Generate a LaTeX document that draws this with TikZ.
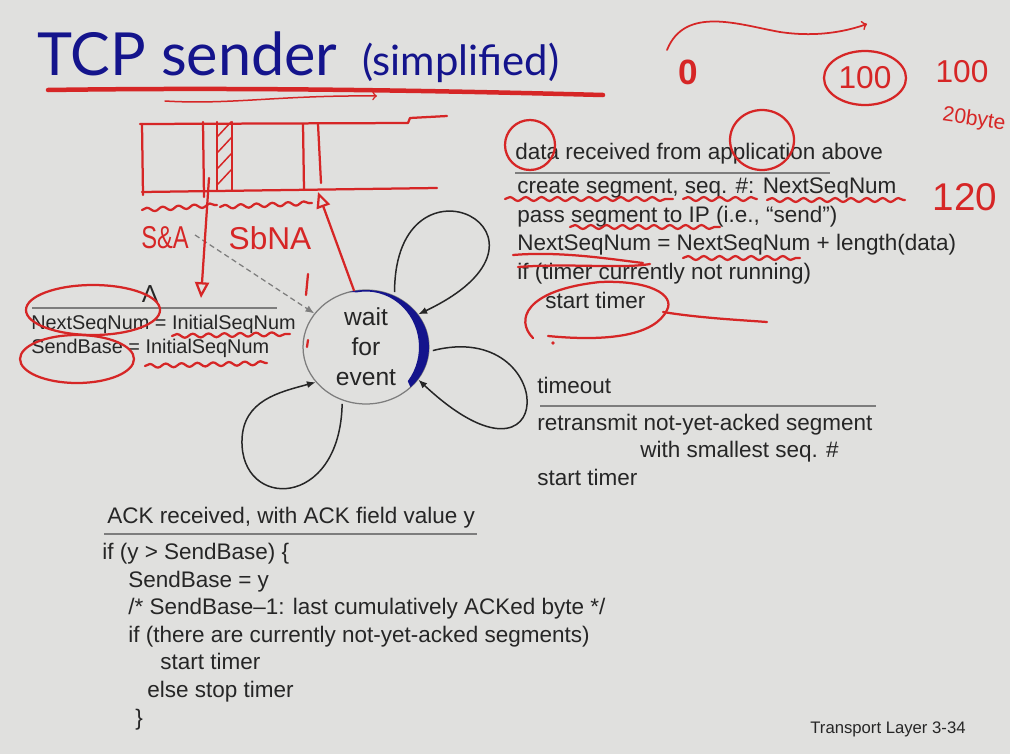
\documentclass[tikz,border=0pt]{standalone}
\usepackage{fontspec}
\setmainfont{Liberation Sans}
\newfontfamily\titlefont{Lato}
\usetikzlibrary{patterns,shapes.geometric,decorations.pathmorphing,arrows.meta}
\definecolor{slidebg}{RGB}{224,224,222}
\definecolor{titleblue}{RGB}{20,20,140}
\definecolor{penred}{RGB}{214,38,38}
\definecolor{ink}{RGB}{38,38,38}
\definecolor{rulegray}{RGB}{125,125,125}
\tikzset{
  body/.style={text=ink, inner sep=0pt, anchor=base west, align=left, font=\fontsize{12.8}{16.3}\selectfont},
  guard/.style={draw=rulegray, line width=0.25mm},
  loopedge/.style={draw=ink, line width=0.3mm, -{Latex[length=5pt,width=4pt]}, shorten <=2pt},
  redpen/.style={draw=penred, line width=0.45mm, line cap=round, line join=round},
  squiggle/.style={redpen, decorate, decoration={snake, amplitude=1.1pt, segment length=9pt}},
  hand/.style={text=penred, inner sep=0pt, font=\fontsize{18}{18}\selectfont},
  redtip/.style={-{Triangle[open, length=9pt, width=8pt]}}
}

\begin{document}
\begin{tikzpicture}[x=0.02cm, y=-0.02cm]
\fill[slidebg] (0,0) rectangle (1010,754);
\useasboundingbox (0,0) rectangle (1010,754);

\node[anchor=base west, inner sep=0pt, text=titleblue, font=\titlefont\fontsize{33.8}{34}\selectfont] (title) at (37,75) {TCP sender};
\node[anchor=base west, inner sep=0pt, text=titleblue, font=\titlefont\fontsize{23.8}{24}\selectfont] (subtitle) at (362,75) {(simplified)};

\node[ellipse, draw=rulegray, line width=0.25mm, minimum width=2.52cm, minimum height=2.28cm, inner sep=0pt, align=center, text=ink, font=\fontsize{14}{17}\selectfont] (wait) at (366,347) {wait\\for\\event};
\fill[titleblue] ([shift={(wait.center)}]105:1.26cm and 1.14cm) arc[start angle=105, end angle=-45, x radius=1.26cm, y radius=1.14cm]
  -- ([shift={(wait.center)}]-38:1.06cm and 1.11cm) arc[start angle=-38, end angle=100, x radius=1.06cm, y radius=1.11cm] -- cycle;

\coordinate (initstart) at (195,235);
\draw[densely dashed, draw=rulegray, line width=0.25mm, -{Latex[length=5pt,width=4pt]}] (initstart) -- (wait.147);
\node[text=ink, inner sep=0pt, anchor=base, font=\fontsize{14}{14}\selectfont] (lambda) at (150,302) {Λ};
\draw[guard] (32,308) -- (277,308);
\node[body, font=\fontsize{11.3}{13.6}\selectfont] (initact) at (31,353) {NextSeqNum = InitialSeqNum\\SendBase = InitialSeqNum};

\draw[loopedge] (wait.61) .. controls (395,140) and (585,235) .. (wait.32);
\draw[loopedge] (wait.-4) .. controls (560,318) and (560,512) .. (wait.-32);
\draw[loopedge] (wait.246) .. controls (340,510) and (240,510) .. (242,440) .. controls (243,400) and (280,392) .. (wait.215);

\node[body] (datarcv) at (515,159) {data received from application above};
\draw[guard] (515,173) -- (830,173);
\node[body] (dataact) at (517,308) {create segment, seq. \#: NextSeqNum\\pass segment to IP (i.e., “send”)\\NextSeqNum = NextSeqNum + length(data)\\if (timer currently not running)\\\hspace*{0.56cm}start timer};

\node[body] (tmo) at (537,393) {timeout};
\draw[guard] (540,406) -- (876,406);
\node[body, font=\fontsize{12.8}{15.6}\selectfont] (tmoact) at (537,485) {retransmit not-yet-acked segment\\\hspace*{2.06cm}with smallest seq. \#\\start timer};

\node[body] (ackrcv) at (107,523) {ACK received, with ACK field value y};
\draw[guard] (104,534) -- (477,534);
\node[body, font=\fontsize{12.8}{15.7}\selectfont] (ackact) at (102,725) {if (y > SendBase) \{\\
\hspace*{0.52cm}SendBase = y\\
\hspace*{0.52cm}/* SendBase–1: last cumulatively ACKed byte */\\
\hspace*{0.52cm}if (there are currently not-yet-acked segments)\\
\hspace*{1.16cm}start timer\\
\hspace*{0.9cm}else stop timer\\
\hspace*{0.66cm}\}};

\node[body, font=\fontsize{9.5}{10}\selectfont] (footer) at (810,733) {Transport Layer 3-34};

\draw[redpen, line width=0.9mm] (48,90) .. controls (250,87) and (450,91) .. (603,95);
\draw[redpen, line width=0.3mm, -to] (165,101) .. controls (230,105) and (280,95) .. (377,96);
\draw[redpen, line width=0.35mm, -to] (667,50) .. controls (685,5) and (740,25) .. (780,32) .. controls (820,38) and (850,30) .. (867,24);
\node[hand, font=\bfseries\fontsize{20}{20}\selectfont] (zero) at (688,72) {0};
\node[hand] (hundred) at (865,78) {100};
\draw[redpen] (hundred.center) ellipse [x radius=41, y radius=27];
\node[hand] (hundredb) at (962,72) {100};
\node[hand, rotate=-8, font=\fontsize{12}{12}\selectfont] (twobyte) at (974,120) {20byte};
\node[hand, font=\fontsize{22}{22}\selectfont] (onetwenty) at (965,197) {120};

\draw[redpen] (530,145) ellipse [x radius=25, y radius=25];
\draw[redpen] (762,140) ellipse [x radius=32, y radius=30];
\draw[squiggle] (505,199) -- (673,199);
\draw[squiggle] (683,199) -- (757,199);
\draw[squiggle] (767,200) -- (905,200);
\draw[squiggle] (570,227) -- (720,227);
\draw[redpen] (513,255) .. controls (560,251) and (610,259) .. (643,263);
\draw[redpen] (518,267) .. controls (570,263) and (620,269) .. (650,264);
\draw[squiggle] (683,258) -- (800,258);
\draw[redpen] (533,338) .. controls (515,320) and (525,290) .. (600,282) .. controls (650,280) and (675,295) .. (667,310) .. controls (655,335) and (610,342) .. (548,336);
\draw[redpen] (663,312) .. controls (700,318) and (740,320) .. (767,322);
\fill[penred] (553,343) circle [radius=1.8];

\draw[redpen] (93,310) ellipse [x radius=67, y radius=25];
\draw[redpen] (77,359) ellipse [x radius=57, y radius=24];
\draw[squiggle] (172,336) -- (290,334);
\draw[squiggle] (145,366) -- (267,363);
\draw[redpen] (308,274) -- (306,295);
\draw[redpen] (308,340) -- (307,347);

\draw[redpen] (140,124) -- (408,123) -- (410,118) -- (447,116);
\draw[redpen] (142,192) -- (437,188);
\draw[redpen] (142,124) -- (143,195);
\draw[redpen] (203,122) -- (204,197);
\draw[redpen] (217,122) -- (217,190);
\draw[redpen] (232,122) -- (232,190);
\draw[redpen] (303,124) -- (304,190);
\draw[redpen] (318,124) -- (321,183);
\foreach \y in {136,152,168,184}
  \draw[redpen, line width=0.3mm] (218,\y) -- (231,\y-14);
\draw[squiggle] (142,210) -- (217,205);
\draw[squiggle] (220,207) -- (312,203);
\node[hand] (sacked) at (165,238) {\scalebox{0.75}[1]{S\&A}};
\node[hand] (sbna) at (270,238) {SbNA};

\coordinate (sbtop) at (209,178);
\coordinate (sbtip) at (201,298);
\coordinate (bufptr) at (318,192);
\draw[redpen, redtip] (sbtop) -- (sbtip);
\draw[redpen, redtip] (wait.102) -- (bufptr);
\end{tikzpicture}
\end{document}
